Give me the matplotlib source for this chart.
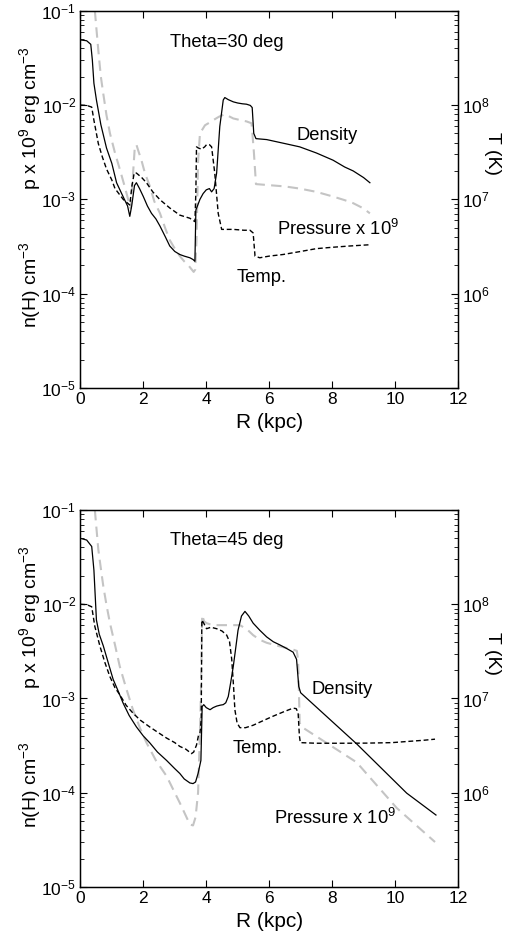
import matplotlib
matplotlib.use("Agg")
import matplotlib.pyplot as plt
from matplotlib.ticker import LogLocator, FixedLocator, NullFormatter, FixedFormatter

plt.rcParams['font.family'] = ['Liberation Sans', 'DejaVu Sans']
plt.rcParams['mathtext.fontset'] = 'custom'
plt.rcParams['mathtext.rm'] = 'Liberation Sans'
plt.rcParams['mathtext.it'] = 'Liberation Sans'

# ---------------- Data: Theta = 30 deg ----------------
r30_dens = [0.0, 0.2, 0.33, 0.38, 0.43, 0.51, 0.65, 0.83, 1.0, 1.15, 1.35, 1.5, 1.57, 1.63, 1.72, 1.78, 1.88, 2.0, 2.13, 2.26, 2.4, 2.53, 2.7, 2.84, 3.0, 3.16, 3.3, 3.48, 3.58, 3.64, 3.67, 3.72, 3.8, 3.9, 4.0, 4.1, 4.17, 4.25, 4.33, 4.43, 4.54, 4.59, 4.7, 4.86, 5.0, 5.15, 5.28, 5.4, 5.46, 5.51, 5.58, 5.92, 6.5, 6.97, 7.5, 8.03, 8.4, 8.67, 9.0, 9.2]
n30_dens = [0.049, 0.048, 0.044, 0.03, 0.017, 0.0113, 0.0062, 0.0035, 0.0024, 0.0015, 0.00108, 0.00085, 0.00066, 0.00085, 0.0014, 0.0015, 0.0013, 0.00107, 0.00085, 0.00071, 0.00062, 0.00052, 0.0004, 0.00032, 0.00028, 0.00026, 0.00025, 0.00024, 0.00023, 0.00022, 0.00077, 0.00085, 0.001, 0.00115, 0.00126, 0.0013, 0.0012, 0.0013, 0.0019, 0.0059, 0.0113, 0.012, 0.0114, 0.0108, 0.0105, 0.0103, 0.0102, 0.0099, 0.0094, 0.005, 0.0044, 0.0043, 0.0039, 0.0036, 0.0031, 0.0026, 0.0022, 0.002, 0.0017, 0.0015]

r30_pres = [0.46, 0.5, 0.57, 0.65, 0.73, 0.83, 0.94, 1.1, 1.25, 1.4, 1.52, 1.6, 1.67, 1.73, 1.78, 1.85, 1.94, 2.05, 2.2, 2.35, 2.53, 2.7, 2.84, 3.0, 3.16, 3.3, 3.43, 3.6, 3.65, 3.69, 3.74, 3.8, 3.96, 4.1, 4.22, 4.4, 4.59, 4.86, 5.1, 5.28, 5.44, 5.51, 5.58, 5.92, 6.5, 6.97, 7.5, 8.03, 8.4, 8.67, 9.0, 9.2]
p30_pres = [0.1, 0.07, 0.038, 0.02, 0.013, 0.0078, 0.005, 0.0031, 0.0021, 0.0014, 0.00099, 0.0008, 0.0018, 0.0036, 0.0038, 0.0032, 0.0026, 0.0019, 0.0014, 0.00095, 0.00071, 0.00049, 0.00037, 0.0003, 0.00025, 0.00022, 0.0002, 0.00017, 0.00018, 0.00037, 0.0025, 0.005, 0.0061, 0.0065, 0.0069, 0.0075, 0.008, 0.0072, 0.0069, 0.0067, 0.0064, 0.0033, 0.00145, 0.00142, 0.00137, 0.0013, 0.0012, 0.00107, 0.00098, 0.00091, 0.0008, 0.00071]

r30_temp = [0.0, 0.2, 0.36, 0.43, 0.57, 0.7, 0.83, 1.0, 1.1, 1.36, 1.57, 1.64, 1.71, 1.78, 1.95, 2.1, 2.3, 2.53, 2.84, 3.16, 3.48, 3.64, 3.67, 3.69, 3.75, 3.85, 3.95, 4.01, 4.1, 4.17, 4.27, 4.38, 4.49, 4.7, 4.86, 5.2, 5.39, 5.49, 5.55, 5.7, 6.0, 6.44, 7.0, 7.5, 8.0, 8.56, 9.2]
t30_temp = [0.01, 0.0099, 0.0095, 0.0069, 0.0039, 0.0028, 0.0021, 0.0016, 0.0013, 0.001, 0.00087, 0.0014, 0.0019, 0.0019, 0.0017, 0.0015, 0.0012, 0.00099, 0.00081, 0.00068, 0.00063, 0.00058, 0.0012, 0.0036, 0.0035, 0.0034, 0.0036, 0.0038, 0.0038, 0.0036, 0.0019, 0.00071, 0.00048, 0.00048, 0.00048, 0.00047, 0.00047, 0.00044, 0.00025, 0.00024, 0.00025, 0.00026, 0.00028, 0.0003, 0.00031, 0.00032, 0.00033]

# ---------------- Data: Theta = 45 deg ----------------
r45_dens = [0.0, 0.2, 0.36, 0.43, 0.51, 0.6, 0.73, 0.9, 1.04, 1.2, 1.36, 1.55, 1.78, 2.0, 2.2, 2.45, 2.74, 3.0, 3.16, 3.3, 3.48, 3.58, 3.66, 3.74, 3.83, 3.87, 3.92, 4.0, 4.12, 4.22, 4.33, 4.45, 4.54, 4.62, 4.7, 4.78, 4.86, 4.94, 5.01, 5.12, 5.23, 5.35, 5.49, 5.7, 5.92, 6.13, 6.34, 6.55, 6.76, 6.87, 6.94, 7.0, 8.78, 10.37, 11.3]
n45_dens = [0.05, 0.048, 0.041, 0.023, 0.0068, 0.0048, 0.0036, 0.0023, 0.0016, 0.0012, 0.00089, 0.00066, 0.0005, 0.0004, 0.00034, 0.00027, 0.00022, 0.00018, 0.00016, 0.00014, 0.000127, 0.000125, 0.00013, 0.00016, 0.00022, 0.00082, 0.00086, 0.0008, 0.00076, 0.0008, 0.00083, 0.00085, 0.00086, 0.0009, 0.00105, 0.0015, 0.0022, 0.0035, 0.0053, 0.0075, 0.0084, 0.0075, 0.0063, 0.0053, 0.0045, 0.004, 0.0037, 0.0034, 0.0031, 0.0026, 0.00134, 0.00115, 0.00033, 9.9e-05, 5.8e-05]

r45_pres = [0.46, 0.5, 0.57, 0.65, 0.73, 0.83, 0.94, 1.1, 1.25, 1.45, 1.67, 1.9, 2.1, 2.4, 2.74, 3.0, 3.16, 3.3, 3.48, 3.58, 3.66, 3.74, 3.8, 3.83, 3.87, 3.93, 4.01, 4.2, 4.43, 4.8, 5.07, 5.3, 5.49, 5.7, 5.92, 6.3, 6.76, 6.88, 6.92, 6.97, 7.03, 8.78, 10.05, 11.27]
p45_pres = [0.1, 0.07, 0.038, 0.024, 0.0154, 0.0098, 0.0063, 0.0037, 0.0022, 0.0013, 0.00076, 0.00048, 0.00034, 0.00022, 0.00015, 0.0001, 7.8e-05, 6.2e-05, 4.6e-05, 4.5e-05, 5.5e-05, 0.0001, 0.00045, 0.0011, 0.0077, 0.0066, 0.0063, 0.006, 0.006, 0.006, 0.006, 0.0054, 0.0047, 0.0042, 0.0039, 0.0036, 0.0033, 0.0032, 0.0025, 0.00055, 0.0005, 0.00021, 6.9e-05, 3.0e-05]

r45_temp = [0.0, 0.2, 0.36, 0.46, 0.62, 0.78, 0.94, 1.1, 1.25, 1.45, 1.67, 1.9, 2.2, 2.45, 2.74, 3.0, 3.16, 3.35, 3.53, 3.6, 3.69, 3.75, 3.8, 3.84, 3.86, 3.92, 4.01, 4.15, 4.33, 4.5, 4.65, 4.74, 4.81, 4.87, 4.91, 4.98, 5.07, 5.25, 5.49, 5.8, 6.13, 6.45, 6.76, 6.86, 6.92, 6.96, 6.99, 7.5, 8.3, 9.1, 9.9, 10.4, 10.9, 11.27]
t45_temp = [0.01, 0.0099, 0.0094, 0.0058, 0.0036, 0.0024, 0.0017, 0.0013, 0.0011, 0.00085, 0.0007, 0.00059, 0.0005, 0.00044, 0.00038, 0.00034, 0.00031, 0.00029, 0.00026, 0.00027, 0.00032, 0.0004, 0.00043, 0.0006, 0.0068, 0.0063, 0.0055, 0.0057, 0.0055, 0.0052, 0.0047, 0.004, 0.0026, 0.0013, 0.00076, 0.00055, 0.00049, 0.00049, 0.00052, 0.00058, 0.00065, 0.00072, 0.00079, 0.00078, 0.0007, 0.0004, 0.00034, 0.000335, 0.000335, 0.000336, 0.00034, 0.00035, 0.00036, 0.00037]

# ---------------- Text ----------------
panel_titles = ["Theta=30 deg", "Theta=45 deg"]
label_density = "Density"
label_pressure = r"Pressure x 10$^{9}$"
label_temp = "Temp."
xlabel = "R (kpc)"
ylabel_p = r"p x 10$^{9}$ erg cm$^{-3}$"
ylabel_n = r"n(H) cm$^{-3}$"
ylabel_T = "T (K)"
xticks = [0, 2, 4, 6, 8, 10, 12]
yticks_left = [1e-5, 1e-4, 1e-3, 1e-2, 1e-1]
yticklabels_left = [r"10$^{-5}$", r"10$^{-4}$", r"10$^{-3}$", r"10$^{-2}$", r"10$^{-1}$"]
yticks_right = [1e5, 1e6, 1e7, 1e8, 1e9]
yticklabels_right = ["", r"10$^{6}$", r"10$^{7}$", r"10$^{8}$", ""]

# annotation positions (data coords)
ann = [
    dict(title=(2.85, 0.046), dens=(6.88, 0.0048), pres=(6.25, 4.9e-4), temp=(4.97, 1.5e-4)),
    dict(title=(2.85, 0.047), dens=(7.36, 1.26e-3), pres=(6.15, 5.4e-5), temp=(4.85, 2.96e-4)),
]

data = [
    (r30_dens, n30_dens, r30_pres, p30_pres, r30_temp, t30_temp),
    (r45_dens, n45_dens, r45_pres, p45_pres, r45_temp, t45_temp),
]

fig = plt.figure(figsize=(5.12, 9.38), dpi=100)
axes_rects = [[0.157, 0.5864, 0.7375, 0.4022], [0.157, 0.0544, 0.7375, 0.4019]]
ylab_p_y = [118, 617]
ylab_n_y = [285, 785]
ylab_T_y = [153, 653]

FS = 12.5
AFS = 13.2
for i, rect in enumerate(axes_rects):
    ax = fig.add_axes(rect)
    rd, nd, rp, pp, rt, tt = data[i]
    ax.plot(rp, pp, color='#c4c4c4', lw=1.5, ls=(0, (5, 3)))
    ax.plot(rt, tt, color='black', lw=1.0, ls=(0, (3.5, 2)))
    ax.plot(rd, nd, color='black', lw=0.9, ls='-')
    ax.set_yscale('log')
    ax.set_xlim(0, 12)
    ax.set_ylim(1e-5, 1e-1)
    ax.set_xticks(xticks)
    ax.set_xticklabels([str(t) for t in xticks], fontsize=FS)
    ax.yaxis.set_major_locator(FixedLocator(yticks_left))
    ax.yaxis.set_major_formatter(FixedFormatter(yticklabels_left))
    ax.yaxis.set_minor_locator(LogLocator(base=10, subs=range(2, 10)))
    ax.yaxis.set_minor_formatter(NullFormatter())
    ax.tick_params(axis='both', which='major', direction='in', length=5, width=0.8,
                   top=True, right=False, labelsize=FS, pad=3)
    ax.tick_params(axis='y', which='minor', direction='in', length=3, width=0.6)
    ax.set_xlabel(xlabel, fontsize=15, labelpad=4)
    for s in ax.spines.values():
        s.set_linewidth(1.0)

    ax2 = ax.twinx()
    ax2.set_yscale('log')
    ax2.set_ylim(1e5, 1e9)
    ax2.yaxis.set_major_locator(FixedLocator(yticks_right))
    ax2.yaxis.set_major_formatter(FixedFormatter(yticklabels_right))
    ax2.yaxis.set_minor_locator(LogLocator(base=10, subs=range(2, 10)))
    ax2.yaxis.set_minor_formatter(NullFormatter())
    ax2.tick_params(axis='y', which='major', direction='in', length=5, width=0.8, labelsize=FS, pad=3)
    ax2.tick_params(axis='y', which='minor', direction='in', length=3, width=0.6)

    a = ann[i]
    ax.text(a['title'][0], a['title'][1], panel_titles[i], fontsize=AFS, ha='left', va='center')
    ax.text(a['dens'][0], a['dens'][1], label_density, fontsize=AFS, ha='left', va='center')
    ax.text(a['pres'][0], a['pres'][1], label_pressure, fontsize=AFS, ha='left', va='center')
    ax.text(a['temp'][0], a['temp'][1], label_temp, fontsize=AFS, ha='left', va='center')

    fig.text(30 / 512, 1 - ylab_p_y[i] / 938, ylabel_p, rotation=90, fontsize=14, ha='center', va='center')
    fig.text(30 / 512, 1 - ylab_n_y[i] / 938, ylabel_n, rotation=90, fontsize=14, ha='center', va='center')
    fig.text(493 / 512, 1 - ylab_T_y[i] / 938, ylabel_T, rotation=-90, fontsize=14, ha='center', va='center')

fig.savefig("out.png", dpi=100)
